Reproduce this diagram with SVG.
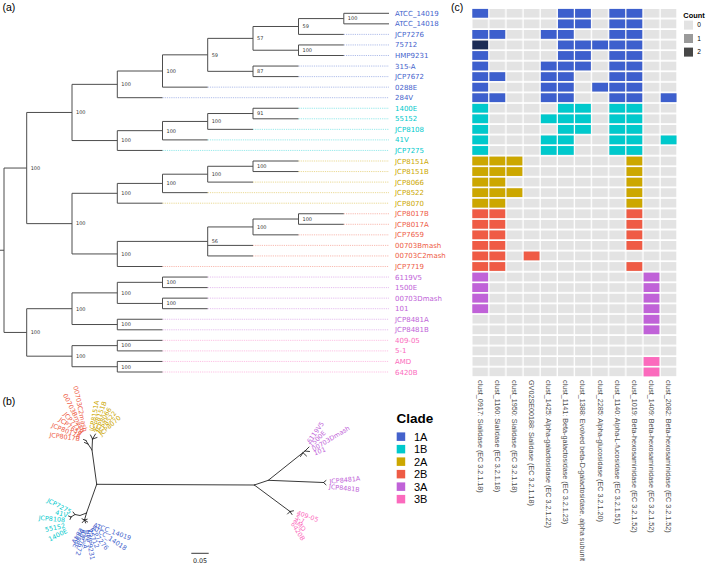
<svg xmlns="http://www.w3.org/2000/svg" width="709" height="564" viewBox="0 0 709 564">
<style>
.br{stroke:#4d4d4d;stroke-width:1;fill:none}
.ub{stroke:#222;stroke-width:0.9;fill:none;stroke-linecap:round}
.dt{stroke-width:0.7;stroke-dasharray:1.2 1;fill:none;opacity:0.6}
.nl{font-family:"DejaVu Sans",sans-serif;font-size:5px;fill:#333}
.tl{font-family:"DejaVu Sans",sans-serif;font-size:7px}
.ul{font-family:"DejaVu Sans",sans-serif;font-size:6.4px}
.pl{font-family:"Liberation Sans",Arial,sans-serif;font-size:10.5px;fill:#000}
.xl{font-family:"Liberation Sans",Arial,sans-serif;font-size:7.2px;fill:#4d4d4d}
.lg{font-family:"Liberation Sans",Arial,sans-serif;fill:#000}
.c1A{fill:#4462cc}.c1B{fill:#00c9cc}.c2A{fill:#cca700}.c2B{fill:#ee5b45}.c3A{fill:#c062d8}.c3B{fill:#fb6abd}
.s1A{stroke:#4462cc}.s1B{stroke:#00c9cc}.s2A{stroke:#cca700}.s2B{stroke:#ee5b45}.s3A{stroke:#c062d8}.s3B{stroke:#fb6abd}
.hb{fill:#3d5fcd}.hc{fill:#00c9cc}.hg{fill:#cca700}.hr{fill:#ef5b45}.hp{fill:#c062d8}.hk{fill:#fb6abd}.hd{fill:#1c2c56}
</style>
<defs>
<pattern id="grid" patternUnits="userSpaceOnUse" x="472.3" y="8.9" width="17.13" height="10.55">
<rect x="0" y="0" width="15.8" height="8.8" fill="#e3e3e3"/>
</pattern>
</defs>
<rect width="709" height="564" fill="#fff"/>

<text class="pl" x="2.5" y="10.5">(a)</text>
<text class="pl" x="2.5" y="405">(b)</text>
<text class="pl" x="451" y="10.5">(c)</text>

<!-- ===== (a) tree connectors ===== -->
<g id="tree-a-connectors">
<path class="br" d="M0 250.24H4 M4 168.04V332.44"/>
<path class="br" d="M4 168.04H26.7 M26.7 112.46V223.63"/>
<path class="br" d="M4 332.44H26.7 M26.7 308.7V356.18"/>
<path class="br" d="M26.7 112.46H72 M72 84.35V140.56"/>
<path class="br" d="M26.7 223.63H72 M72 193.31V253.95"/>
<path class="br" d="M26.7 308.7H72 M72 292.88V324.53"/>
<path class="br" d="M26.7 356.18H72 M72 345.63V366.73"/>
<path class="br" d="M72 84.35H117.3 M117.3 71V97.7 M117.3 97.7H162.5"/>
<path class="br" d="M72 140.56H117.3 M117.3 130.67V150.45 M117.3 150.45H162.5"/>
<path class="br" d="M72 193.31H117.3 M117.3 183.42V203.2 M117.3 203.2H162.5"/>
<path class="br" d="M72 253.95H117.3 M117.3 241.4V266.5 M117.3 266.5H162.5"/>
<path class="br" d="M72 292.88H117.3 M117.3 282.33V303.43"/>
<path class="br" d="M72 324.53H117.3 M117.3 319.25V329.8 M117.3 319.25H162.5 M117.3 329.8H162.5"/>
<path class="br" d="M72 345.63H117.3 M117.3 340.35V350.9 M117.3 340.35H162.5 M117.3 350.9H162.5"/>
<path class="br" d="M72 366.73H117.3 M117.3 361.45V372 M117.3 361.45H162.5 M117.3 372H162.5"/>
<path class="br" d="M117.3 71H162.5 M162.5 54.84V87.15 M162.5 87.15H207.7"/>
<path class="br" d="M117.3 130.67H162.5 M162.5 121.44V139.9 M162.5 139.9H207.7"/>
<path class="br" d="M117.3 183.42H162.5 M162.5 174.19V192.65 M162.5 192.65H207.7"/>
<path class="br" d="M117.3 282.33H162.5 M162.5 277.05V287.6 M162.5 277.05H207.7 M162.5 287.6H207.7"/>
<path class="br" d="M117.3 303.43H162.5 M162.5 298.15V308.7 M162.5 298.15H207.7 M162.5 308.7H207.7"/>
<path class="br" d="M117.3 241.4H207.7 M207.7 226.94V255.95 M207.7 245.4H253 M207.7 255.95H253"/>
<path class="br" d="M162.5 54.84H207.7 M207.7 38.36V71.33"/>
<path class="br" d="M162.5 121.44H207.7 M207.7 113.53V129.35 M207.7 129.35H253"/>
<path class="br" d="M162.5 174.19H207.7 M207.7 166.28V182.1 M207.7 182.1H253"/>
<path class="br" d="M207.7 38.36H253 M253 26.49V50.23"/>
<path class="br" d="M207.7 71.33H253 M253 66.05V76.6 M253 66.05H298.5 M253 76.6H298.5"/>
<path class="br" d="M207.7 113.53H253 M253 108.25V118.8 M253 108.25H298.5 M253 118.8H298.5"/>
<path class="br" d="M207.7 166.28H253 M253 161V171.55 M253 161H298.5 M253 171.55H298.5"/>
<path class="br" d="M207.7 226.94H253 M253 219.03V234.85 M253 234.85H298.5"/>
<path class="br" d="M253 26.49H298.5 M298.5 18.58V34.4 M298.5 34.4H343.8"/>
<path class="br" d="M253 50.23H298.5 M298.5 44.95V55.5 M298.5 44.95H343.8 M298.5 55.5H343.8"/>
<path class="br" d="M253 219.03H298.5 M298.5 213.75V224.3 M298.5 213.75H343.8 M298.5 224.3H343.8"/>
<path class="br" d="M298.5 18.58H343.8 M343.8 13.3V23.85 M343.8 13.3H389 M343.8 23.85H389"/>
<!-- dotted alignment lines -->
<path class="dt s1A" d="M343.8 34.4H389 M343.8 44.95H389 M343.8 55.5H389 M298.5 66.05H389 M298.5 76.6H389 M207.7 87.15H389 M162.5 97.7H389"/>
<path class="dt s1B" d="M298.5 108.25H389 M298.5 118.8H389 M253 129.35H389 M207.7 139.9H389 M162.5 150.45H389"/>
<path class="dt s2A" d="M298.5 161H389 M298.5 171.55H389 M253 182.1H389 M207.7 192.65H389 M162.5 203.2H389"/>
<path class="dt s2B" d="M343.8 213.75H389 M343.8 224.3H389 M298.5 234.85H389 M253 245.4H389 M253 255.95H389 M162.5 266.5H389"/>
<path class="dt s3A" d="M207.7 277.05H389 M207.7 287.6H389 M207.7 298.15H389 M207.7 308.7H389 M162.5 319.25H389 M162.5 329.8H389"/>
<path class="dt s3B" d="M162.5 340.35H389 M162.5 350.9H389 M162.5 361.45H389 M162.5 372H389"/>
</g>

<!-- bootstrap labels -->
<g id="bootstrap-labels" class="nl">
<text x="30.7" y="169.8">100</text>
<text x="30.7" y="334.2">100</text>
<text x="76" y="114.2">100</text>
<text x="76" y="225.4">100</text>
<text x="76" y="310.5">100</text>
<text x="76" y="358">100</text>
<text x="121.3" y="86.1">100</text>
<text x="121.3" y="142.3">100</text>
<text x="121.3" y="195.1">100</text>
<text x="121.3" y="255.7">100</text>
<text x="121.3" y="294.7">100</text>
<text x="121.3" y="326.3">100</text>
<text x="121.3" y="347.4">100</text>
<text x="121.3" y="368.5">100</text>
<text x="166.5" y="72.8">100</text>
<text x="166.5" y="132.5">100</text>
<text x="166.5" y="185.2">100</text>
<text x="166.5" y="284.1">100</text>
<text x="166.5" y="305.2">100</text>
<text x="211.7" y="243.2">56</text>
<text x="211.7" y="56.6">59</text>
<text x="211.7" y="123.2">100</text>
<text x="211.7" y="176">100</text>
<text x="257" y="40.2">57</text>
<text x="257" y="73.1">87</text>
<text x="257" y="115.3">91</text>
<text x="257" y="168.1">100</text>
<text x="257" y="228.7">100</text>
<text x="302.5" y="28.3">59</text>
<text x="302.5" y="52">100</text>
<text x="302.5" y="220.8">100</text>
<text x="347.8" y="20.4">100</text>
</g>

<!-- tip labels (a) -->
<g id="tip-ATCC_14019" class="tl c1A"><text x="395" y="15.8">ATCC_14019</text></g>
<g id="tip-ATCC_14018" class="tl c1A"><text x="395" y="26.35">ATCC_14018</text></g>
<g id="tip-JCP7276" class="tl c1A"><text x="395" y="36.9">JCP7276</text></g>
<g id="tip-75712" class="tl c1A"><text x="395" y="47.45">75712</text></g>
<g id="tip-HMP9231" class="tl c1A"><text x="395" y="58">HMP9231</text></g>
<g id="tip-315-A" class="tl c1A"><text x="395" y="68.55">315-A</text></g>
<g id="tip-JCP7672" class="tl c1A"><text x="395" y="79.1">JCP7672</text></g>
<g id="tip-0288E" class="tl c1A"><text x="395" y="89.65">0288E</text></g>
<g id="tip-284V" class="tl c1A"><text x="395" y="100.2">284V</text></g>
<g id="tip-1400E" class="tl c1B"><text x="395" y="110.75">1400E</text></g>
<g id="tip-55152" class="tl c1B"><text x="395" y="121.3">55152</text></g>
<g id="tip-JCP8108" class="tl c1B"><text x="395" y="131.85">JCP8108</text></g>
<g id="tip-41V" class="tl c1B"><text x="395" y="142.4">41V</text></g>
<g id="tip-JCP7275" class="tl c1B"><text x="395" y="152.95">JCP7275</text></g>
<g id="tip-JCP8151A" class="tl c2A"><text x="395" y="163.5">JCP8151A</text></g>
<g id="tip-JCP8151B" class="tl c2A"><text x="395" y="174.05">JCP8151B</text></g>
<g id="tip-JCP8066" class="tl c2A"><text x="395" y="184.6">JCP8066</text></g>
<g id="tip-JCP8522" class="tl c2A"><text x="395" y="195.15">JCP8522</text></g>
<g id="tip-JCP8070" class="tl c2A"><text x="395" y="205.7">JCP8070</text></g>
<g id="tip-JCP8017B" class="tl c2B"><text x="395" y="216.25">JCP8017B</text></g>
<g id="tip-JCP8017A" class="tl c2B"><text x="395" y="226.8">JCP8017A</text></g>
<g id="tip-JCP7659" class="tl c2B"><text x="395" y="237.35">JCP7659</text></g>
<g id="tip-00703Bmash" class="tl c2B"><text x="395" y="247.9">00703Bmash</text></g>
<g id="tip-00703C2mash" class="tl c2B"><text x="395" y="258.45">00703C2mash</text></g>
<g id="tip-JCP7719" class="tl c2B"><text x="395" y="269">JCP7719</text></g>
<g id="tip-6119V5" class="tl c3A"><text x="395" y="279.55">6119V5</text></g>
<g id="tip-1500E" class="tl c3A"><text x="395" y="290.1">1500E</text></g>
<g id="tip-00703Dmash" class="tl c3A"><text x="395" y="300.65">00703Dmash</text></g>
<g id="tip-101" class="tl c3A"><text x="395" y="311.2">101</text></g>
<g id="tip-JCP8481A" class="tl c3A"><text x="395" y="321.75">JCP8481A</text></g>
<g id="tip-JCP8481B" class="tl c3A"><text x="395" y="332.3">JCP8481B</text></g>
<g id="tip-409-05" class="tl c3B"><text x="395" y="342.85">409-05</text></g>
<g id="tip-5-1" class="tl c3B"><text x="395" y="353.4">5-1</text></g>
<g id="tip-AMD" class="tl c3B"><text x="395" y="363.95">AMD</text></g>
<g id="tip-6420B" class="tl c3B"><text x="395" y="374.5">6420B</text></g>

<!-- ===== (c) heatmap ===== -->
<g id="heatmap">
<rect x="472.3" y="8.9" width="204.23" height="367.5" fill="url(#grid)"/>
<g id="heat-1A">
<rect class="hb" x="472.3" y="8.9" width="15.8" height="8.8"/><rect class="hb" x="557.95" y="8.9" width="15.8" height="8.8"/><rect class="hb" x="575.08" y="8.9" width="15.8" height="8.8"/><rect class="hb" x="609.34" y="8.9" width="15.8" height="8.8"/><rect class="hb" x="626.47" y="8.9" width="15.8" height="8.8"/>
<rect class="hb" x="557.95" y="19.45" width="15.8" height="8.8"/><rect class="hb" x="575.08" y="19.45" width="15.8" height="8.8"/><rect class="hb" x="609.34" y="19.45" width="15.8" height="8.8"/><rect class="hb" x="626.47" y="19.45" width="15.8" height="8.8"/>
<rect class="hb" x="472.3" y="30" width="15.8" height="8.8"/><rect class="hb" x="489.43" y="30" width="15.8" height="8.8"/><rect class="hb" x="540.82" y="30" width="15.8" height="8.8"/><rect class="hb" x="557.95" y="30" width="15.8" height="8.8"/><rect class="hb" x="609.34" y="30" width="15.8" height="8.8"/><rect class="hb" x="626.47" y="30" width="15.8" height="8.8"/>
<rect class="hd" x="472.3" y="40.55" width="15.8" height="8.8"/><rect class="hb" x="557.95" y="40.55" width="15.8" height="8.8"/><rect class="hb" x="575.08" y="40.55" width="15.8" height="8.8"/><rect class="hb" x="592.21" y="40.55" width="15.8" height="8.8"/><rect class="hb" x="609.34" y="40.55" width="15.8" height="8.8"/><rect class="hb" x="626.47" y="40.55" width="15.8" height="8.8"/>
<rect class="hb" x="472.3" y="51.1" width="15.8" height="8.8"/><rect class="hb" x="557.95" y="51.1" width="15.8" height="8.8"/><rect class="hb" x="575.08" y="51.1" width="15.8" height="8.8"/><rect class="hb" x="609.34" y="51.1" width="15.8" height="8.8"/><rect class="hb" x="626.47" y="51.1" width="15.8" height="8.8"/>
<rect class="hb" x="472.3" y="61.65" width="15.8" height="8.8"/><rect class="hb" x="540.82" y="61.65" width="15.8" height="8.8"/><rect class="hb" x="557.95" y="61.65" width="15.8" height="8.8"/><rect class="hb" x="575.08" y="61.65" width="15.8" height="8.8"/><rect class="hb" x="609.34" y="61.65" width="15.8" height="8.8"/><rect class="hb" x="626.47" y="61.65" width="15.8" height="8.8"/>
<rect class="hb" x="472.3" y="72.2" width="15.8" height="8.8"/><rect class="hb" x="489.43" y="72.2" width="15.8" height="8.8"/><rect class="hb" x="540.82" y="72.2" width="15.8" height="8.8"/><rect class="hb" x="557.95" y="72.2" width="15.8" height="8.8"/><rect class="hb" x="609.34" y="72.2" width="15.8" height="8.8"/><rect class="hb" x="626.47" y="72.2" width="15.8" height="8.8"/>
<rect class="hb" x="472.3" y="82.75" width="15.8" height="8.8"/><rect class="hb" x="540.82" y="82.75" width="15.8" height="8.8"/><rect class="hb" x="557.95" y="82.75" width="15.8" height="8.8"/><rect class="hb" x="592.21" y="82.75" width="15.8" height="8.8"/><rect class="hb" x="609.34" y="82.75" width="15.8" height="8.8"/><rect class="hb" x="626.47" y="82.75" width="15.8" height="8.8"/>
<rect class="hb" x="472.3" y="93.3" width="15.8" height="8.8"/><rect class="hb" x="489.43" y="93.3" width="15.8" height="8.8"/><rect class="hb" x="540.82" y="93.3" width="15.8" height="8.8"/><rect class="hb" x="557.95" y="93.3" width="15.8" height="8.8"/><rect class="hb" x="609.34" y="93.3" width="15.8" height="8.8"/><rect class="hb" x="626.47" y="93.3" width="15.8" height="8.8"/><rect class="hb" x="660.73" y="93.3" width="15.8" height="8.8"/>
</g>
<g id="heat-1B">
<rect class="hc" x="472.3" y="103.85" width="15.8" height="8.8"/><rect class="hc" x="557.95" y="103.85" width="15.8" height="8.8"/><rect class="hc" x="575.08" y="103.85" width="15.8" height="8.8"/><rect class="hc" x="609.34" y="103.85" width="15.8" height="8.8"/><rect class="hc" x="626.47" y="103.85" width="15.8" height="8.8"/>
<rect class="hc" x="472.3" y="114.4" width="15.8" height="8.8"/><rect class="hc" x="540.82" y="114.4" width="15.8" height="8.8"/><rect class="hc" x="557.95" y="114.4" width="15.8" height="8.8"/><rect class="hc" x="575.08" y="114.4" width="15.8" height="8.8"/><rect class="hc" x="609.34" y="114.4" width="15.8" height="8.8"/><rect class="hc" x="626.47" y="114.4" width="15.8" height="8.8"/>
<rect class="hc" x="472.3" y="124.95" width="15.8" height="8.8"/><rect class="hc" x="557.95" y="124.95" width="15.8" height="8.8"/><rect class="hc" x="575.08" y="124.95" width="15.8" height="8.8"/><rect class="hc" x="609.34" y="124.95" width="15.8" height="8.8"/><rect class="hc" x="626.47" y="124.95" width="15.8" height="8.8"/>
<rect class="hc" x="472.3" y="135.5" width="15.8" height="8.8"/><rect class="hc" x="540.82" y="135.5" width="15.8" height="8.8"/><rect class="hc" x="557.95" y="135.5" width="15.8" height="8.8"/><rect class="hc" x="609.34" y="135.5" width="15.8" height="8.8"/><rect class="hc" x="626.47" y="135.5" width="15.8" height="8.8"/><rect class="hc" x="660.73" y="135.5" width="15.8" height="8.8"/>
<rect class="hc" x="472.3" y="146.05" width="15.8" height="8.8"/><rect class="hc" x="540.82" y="146.05" width="15.8" height="8.8"/><rect class="hc" x="557.95" y="146.05" width="15.8" height="8.8"/><rect class="hc" x="609.34" y="146.05" width="15.8" height="8.8"/><rect class="hc" x="626.47" y="146.05" width="15.8" height="8.8"/>
</g>
<g id="heat-2A">
<rect class="hg" x="472.3" y="156.6" width="15.8" height="8.8"/><rect class="hg" x="489.43" y="156.6" width="15.8" height="8.8"/><rect class="hg" x="506.56" y="156.6" width="15.8" height="8.8"/><rect class="hg" x="626.47" y="156.6" width="15.8" height="8.8"/>
<rect class="hg" x="472.3" y="167.15" width="15.8" height="8.8"/><rect class="hg" x="489.43" y="167.15" width="15.8" height="8.8"/><rect class="hg" x="506.56" y="167.15" width="15.8" height="8.8"/><rect class="hg" x="626.47" y="167.15" width="15.8" height="8.8"/>
<rect class="hg" x="472.3" y="177.7" width="15.8" height="8.8"/><rect class="hg" x="489.43" y="177.7" width="15.8" height="8.8"/><rect class="hg" x="626.47" y="177.7" width="15.8" height="8.8"/>
<rect class="hg" x="472.3" y="188.25" width="15.8" height="8.8"/><rect class="hg" x="489.43" y="188.25" width="15.8" height="8.8"/><rect class="hg" x="506.56" y="188.25" width="15.8" height="8.8"/><rect class="hg" x="626.47" y="188.25" width="15.8" height="8.8"/>
<rect class="hg" x="472.3" y="198.8" width="15.8" height="8.8"/><rect class="hg" x="489.43" y="198.8" width="15.8" height="8.8"/><rect class="hg" x="626.47" y="198.8" width="15.8" height="8.8"/>
</g>
<g id="heat-2B">
<rect class="hr" x="472.3" y="209.35" width="15.8" height="8.8"/><rect class="hr" x="489.43" y="209.35" width="15.8" height="8.8"/><rect class="hr" x="626.47" y="209.35" width="15.8" height="8.8"/>
<rect class="hr" x="472.3" y="219.9" width="15.8" height="8.8"/><rect class="hr" x="489.43" y="219.9" width="15.8" height="8.8"/><rect class="hr" x="626.47" y="219.9" width="15.8" height="8.8"/>
<rect class="hr" x="472.3" y="230.45" width="15.8" height="8.8"/><rect class="hr" x="489.43" y="230.45" width="15.8" height="8.8"/><rect class="hr" x="626.47" y="230.45" width="15.8" height="8.8"/>
<rect class="hr" x="472.3" y="241" width="15.8" height="8.8"/><rect class="hr" x="489.43" y="241" width="15.8" height="8.8"/><rect class="hr" x="626.47" y="241" width="15.8" height="8.8"/>
<rect class="hr" x="472.3" y="251.55" width="15.8" height="8.8"/><rect class="hr" x="489.43" y="251.55" width="15.8" height="8.8"/><rect class="hr" x="523.69" y="251.55" width="15.8" height="8.8"/>
<rect class="hr" x="472.3" y="262.1" width="15.8" height="8.8"/><rect class="hr" x="489.43" y="262.1" width="15.8" height="8.8"/><rect class="hr" x="626.47" y="262.1" width="15.8" height="8.8"/>
</g>
<g id="heat-3A">
<rect class="hp" x="472.3" y="272.65" width="15.8" height="8.8"/><rect class="hp" x="643.6" y="272.65" width="15.8" height="8.8"/>
<rect class="hp" x="472.3" y="283.2" width="15.8" height="8.8"/><rect class="hp" x="643.6" y="283.2" width="15.8" height="8.8"/>
<rect class="hp" x="472.3" y="293.75" width="15.8" height="8.8"/><rect class="hp" x="643.6" y="293.75" width="15.8" height="8.8"/>
<rect class="hp" x="472.3" y="304.3" width="15.8" height="8.8"/><rect class="hp" x="643.6" y="304.3" width="15.8" height="8.8"/>
<rect class="hp" x="643.6" y="314.85" width="15.8" height="8.8"/>
<rect class="hp" x="643.6" y="325.4" width="15.8" height="8.8"/>
</g>
<g id="heat-3B">
<rect class="hk" x="643.6" y="357.05" width="15.8" height="8.8"/>
<rect class="hk" x="643.6" y="367.6" width="15.8" height="8.8"/>
</g>
</g>

<!-- heatmap column labels -->
<g id="heat-columns" class="xl">
<text transform="translate(477.6,380) rotate(90)">clust_0917: Sialidase (EC 3.2.1.18)</text>
<text transform="translate(494.73,380) rotate(90)">clust_1160: Sialidase (EC 3.2.1.18)</text>
<text transform="translate(511.86,380) rotate(90)">clust_1950: Sialidase (EC 3.2.1.18)</text>
<text transform="translate(528.99,380) rotate(90)">GV02SE00188: Sialidase (EC 3.2.1.18)</text>
<text transform="translate(546.12,380) rotate(90)">clust_1425: Alpha-galactosidase (EC 3.2.1.22)</text>
<text transform="translate(563.25,380) rotate(90)">clust_1141: Beta-galactosidase (EC 3.2.1.23)</text>
<text transform="translate(580.38,380) rotate(90)">clust_1388: Evolved beta-D-galactosidase, alpha subunit</text>
<text transform="translate(597.51,380) rotate(90)">clust_2285: Alpha-glucosidase (EC 3.2.1.20)</text>
<text transform="translate(614.64,380) rotate(90)">clust_1140: Alpha-L-fucosidase (EC 3.2.1.51)</text>
<text transform="translate(631.77,380) rotate(90)">clust_1019: Beta-hexosaminidase (EC 3.2.1.52)</text>
<text transform="translate(648.9,380) rotate(90)">clust_1409: Beta-hexosaminidase (EC 3.2.1.52)</text>
<text transform="translate(666.03,380) rotate(90)">clust_2082: Beta-hexosaminidase (EC 3.2.1.52)</text>
</g>

<!-- Count legend -->
<g id="count-legend">
<text class="lg" x="683.3" y="18.3" font-size="7.4" font-weight="bold">Count</text>
<rect x="684" y="20.6" width="9" height="9" fill="#e3e3e3"/>
<rect x="684" y="34" width="9" height="9" fill="#9a9a9a"/>
<rect x="684" y="47.6" width="9" height="9" fill="#474747"/>
<text class="lg" x="697.3" y="27.4" font-size="6.5" fill="#333">0</text>
<text class="lg" x="697.3" y="40.8" font-size="6.5" fill="#333">1</text>
<text class="lg" x="697.3" y="54.4" font-size="6.5" fill="#333">2</text>
</g>

<!-- ===== (b) unrooted tree ===== -->
<g id="tree-b-connectors">
<path class="ub" d="M96.7 484.3 L254.3 485"/>
<path class="ub" d="M254.3 485 L268.3 480.3 L305 451"/>
<path class="ub" d="M305 451 L309 447 M305 451 L309.5 451.5 M303 452.7 L306.5 456 M303 452.7 L300.5 456.5"/>
<path class="ub" d="M268.3 480.3 L323.5 482.5 M323.5 482.5 L326 480.5 M323.5 482.5 L326 484.8"/>
<path class="ub" d="M254.3 485 L290 511.5 M290 511.5 L293.5 510.8 M290 511.5 L292 514.5 M290 511.5 L287.5 514"/>
<path class="ub" d="M96.7 484.3 L92 450 L88 444 M88 444 L84.5 442.5 M88 444 L86 440.5 M86 440.5 L83.5 439.5"/>
<path class="ub" d="M92 450 L92.5 439 M92.5 439 L90.5 435 M92.5 439 L95.5 434 M92.5 439 L97 437.5"/>
<path class="ub" d="M96.7 484.3 L86.5 513 M86.5 513 L80 515.5 L75 514.5 L71 517 M75 514.5 L73 512 M71 517 L68.5 516 M71 517 L70 519.5"/>
<path class="ub" d="M86.5 513 L84.5 520 M84.5 520 L82 518.8 M84.5 520 L87.2 519.2 M84.5 520 L85.6 523 M84.5 520 L82.3 522.6 M84.5 520 L87.6 522"/>
<path class="ub" d="M191.7 553.3 H208.3"/>
</g>
<text class="ul" x="200" y="563" text-anchor="middle" fill="#222" font-size="6">0.05</text>

<g id="b-tips-2B" class="ul c2B" text-anchor="end">
<text transform="translate(80,439) rotate(8)" dy="0.35em">JCP8017B</text>
<text transform="translate(80.4,436.5) rotate(22)" dy="0.35em">JCP8017A</text>
<text transform="translate(81.1,434.5) rotate(36)" dy="0.35em">JCP7659</text>
<text transform="translate(82,433) rotate(49)" dy="0.35em">JCP7719</text>
<text transform="translate(83.4,432) rotate(64)" dy="0.35em">00703Bmash</text>
<text transform="translate(85.2,431.5) rotate(78)" dy="0.35em">00703C2mash</text>
</g>
<g id="b-tips-2A" class="ul c2A">
<text transform="translate(91.5,431) rotate(-80)" dy="0.35em">JCP8151A</text>
<text transform="translate(94,430.5) rotate(-70)" dy="0.35em">JCP8151B</text>
<text transform="translate(96.5,431) rotate(-60)" dy="0.35em">JCP8066</text>
<text transform="translate(98.5,432.5) rotate(-51)" dy="0.35em">JCP8522</text>
<text transform="translate(100,434.5) rotate(-42)" dy="0.35em">JCP8070</text>
</g>
<g id="b-tips-1B" class="ul c1B" text-anchor="end">
<text transform="translate(71,512) rotate(27)" dy="0.35em">JCP7275</text>
<text transform="translate(67.5,515.5) rotate(16)" dy="0.35em">41V</text>
<text transform="translate(65,520) rotate(5)" dy="0.35em">JCP8108</text>
<text transform="translate(65,525.5) rotate(-12)" dy="0.35em">55152</text>
<text transform="translate(67,530.5) rotate(-26)" dy="0.35em">1400E</text>
</g>
<g id="b-tips-1A" class="ul c1A">
<text transform="translate(93.5,524.7) rotate(20)" dy="0.35em">ATCC_14019</text>
<text transform="translate(92.7,527) rotate(33)" dy="0.35em">ATCC_14018</text>
<text transform="translate(90.9,528.3) rotate(52)" dy="0.35em">JCP7276</text>
<text transform="translate(89.3,529.3) rotate(66)" dy="0.35em">75712</text>
<text transform="translate(87.4,529.9) rotate(80)" dy="0.35em">HMP9231</text>
<text transform="translate(85.7,530) rotate(92)" dy="0.35em">315-A</text>
<text transform="translate(84.1,529.8) rotate(104)" dy="0.35em">JCP7672</text>
<text transform="translate(82.7,529.3) rotate(114)" dy="0.35em">0288E</text>
<text transform="translate(81.8,528.8) rotate(122)" dy="0.35em">284V</text>
</g>
<g id="b-tips-3A" class="ul c3A">
<text transform="translate(308.3,442.5) rotate(-55)" dy="0.35em">6119V5</text>
<text transform="translate(310,446) rotate(-44)" dy="0.35em">1500E</text>
<text transform="translate(312.5,449.5) rotate(-31)" dy="0.35em">00703Dmash</text>
<text transform="translate(314,453.5) rotate(-22)" dy="0.35em">101</text>
<text transform="translate(329.5,481.5) rotate(-6)" dy="0.35em">JCP8481A</text>
<text transform="translate(329,486.5) rotate(6)" dy="0.35em">JCP8481B</text>
</g>
<g id="b-tips-3B" class="ul c3B">
<text transform="translate(297,512.3) rotate(20)" dy="0.35em">409-05</text>
<text transform="translate(295.8,516.2) rotate(35)" dy="0.35em">5-1</text>
<text transform="translate(294.5,519.5) rotate(46)" dy="0.35em">AMD</text>
<text transform="translate(292.5,522.5) rotate(58)" dy="0.35em">6420B</text>
</g>

<!-- Clade legend -->
<g id="clade-legend">
<text class="lg" x="396.5" y="423.3" font-size="13.5" font-weight="bold">Clade</text>
<rect class="c1A" x="396.7" y="432.4" width="8.5" height="8.5"/>
<rect class="c1B" x="396.7" y="444.9" width="8.5" height="8.5"/>
<rect class="c2A" x="396.7" y="457.4" width="8.5" height="8.5"/>
<rect class="c2B" x="396.7" y="469.9" width="8.5" height="8.5"/>
<rect class="c3A" x="396.7" y="482.4" width="8.5" height="8.5"/>
<rect class="c3B" x="396.7" y="494.9" width="8.5" height="8.5"/>
<text class="lg" x="414" y="440.7" font-size="11">1A</text>
<text class="lg" x="414" y="453.2" font-size="11">1B</text>
<text class="lg" x="414" y="465.7" font-size="11">2A</text>
<text class="lg" x="414" y="478.2" font-size="11">2B</text>
<text class="lg" x="414" y="490.7" font-size="11">3A</text>
<text class="lg" x="414" y="503.2" font-size="11">3B</text>
</g>
</svg>
